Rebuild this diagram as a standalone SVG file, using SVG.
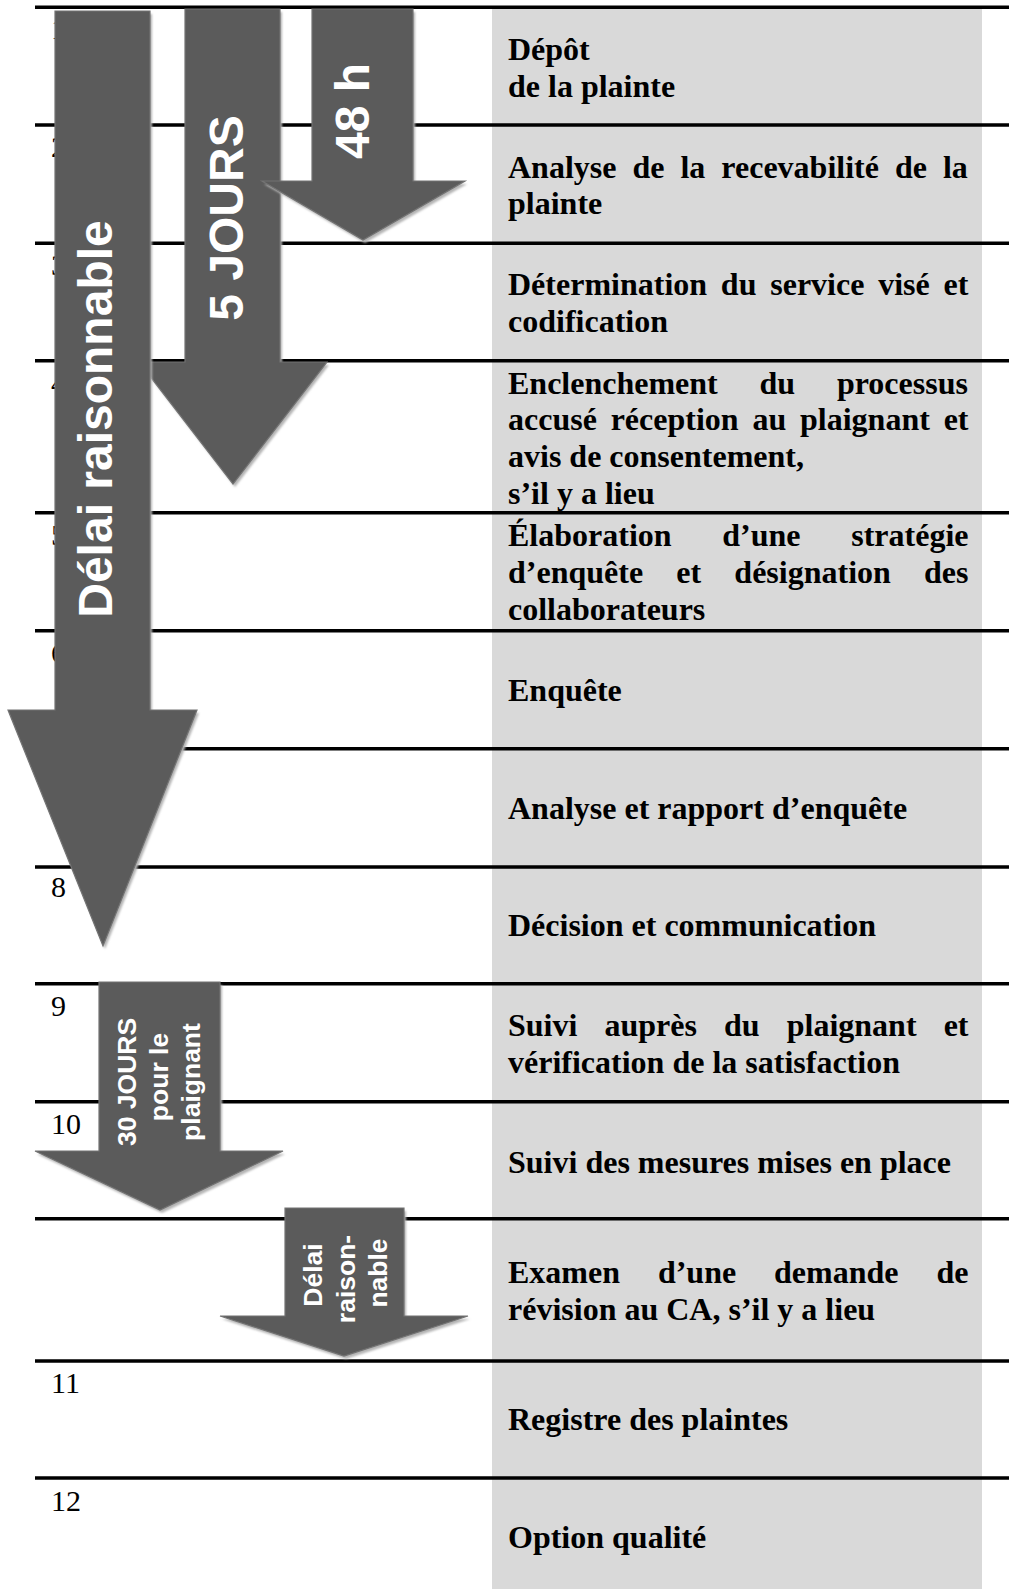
<svg xmlns="http://www.w3.org/2000/svg" width="1009" height="1589" viewBox="0 0 1009 1589">
<defs>
<style>
.rule{stroke:#000;stroke-width:3.4}
.step{font-family:"Liberation Serif","Times New Roman",serif;font-weight:bold;font-size:32px;fill:#000}
.num{font-family:"Liberation Serif","Times New Roman",serif;font-size:30px;fill:#000}
.arr{fill:#5b5b5b;stroke:#737373;stroke-width:1.2}
.shd{fill:#b4b4b4;filter:url(#blur)}
.lbl{font-family:"Liberation Sans",Arial,sans-serif;font-weight:bold;fill:#fff;text-anchor:middle}
</style>
<filter id="blur" x="-10%" y="-10%" width="120%" height="120%"><feGaussianBlur stdDeviation="1"/></filter>
</defs>
<rect width="1009" height="1589" fill="#fff"/>
<rect id="column" x="492" y="9" width="490" height="1580" fill="#d9d9d9"/>

<g id="rules">
<line class="rule" x1="35" y1="7.3" x2="1009" y2="7.3"/>
<line class="rule" x1="35" y1="125" x2="1009" y2="125"/>
<line class="rule" x1="35" y1="243.3" x2="1009" y2="243.3"/>
<line class="rule" x1="35" y1="360.7" x2="1009" y2="360.7"/>
<line class="rule" x1="35" y1="512.7" x2="1009" y2="512.7"/>
<line class="rule" x1="35" y1="630.7" x2="1009" y2="630.7"/>
<line class="rule" x1="35" y1="748.7" x2="1009" y2="748.7"/>
<line class="rule" x1="35" y1="867" x2="1009" y2="867"/>
<line class="rule" x1="35" y1="983.7" x2="1009" y2="983.7"/>
<line class="rule" x1="35" y1="1101.7" x2="1009" y2="1101.7"/>
<line class="rule" x1="35" y1="1218.7" x2="1009" y2="1218.7"/>
<line class="rule" x1="35" y1="1361" x2="1009" y2="1361"/>
<line class="rule" x1="35" y1="1478" x2="1009" y2="1478"/>
</g>

<g id="row1"><text class="num" x="51" y="39">1</text>
<text class="step" x="508" y="59.5">Dépôt</text>
<text class="step" x="508" y="96.5">de la plainte</text></g>

<g id="row2"><text class="num" x="51" y="157">2</text>
<text class="step" x="508" y="177.5" word-spacing="8">Analyse de la recevabilité de la</text>
<text class="step" x="508" y="213.5">plainte</text></g>

<g id="row3"><text class="num" x="51" y="275">3</text>
<text class="step" x="508" y="295" word-spacing="5.8">Détermination du service visé et</text>
<text class="step" x="508" y="331.5">codification</text></g>

<g id="row4"><text class="num" x="51" y="392.5">4</text>
<text class="step" x="508" y="393.5" word-spacing="33.8">Enclenchement du processus</text>
<text class="step" x="508" y="430" word-spacing="5.8">accusé réception au plaignant et</text>
<text class="step" x="508" y="466.5">avis de consentement,</text>
<text class="step" x="508" y="503.5">s’il y a lieu</text></g>

<g id="row5"><text class="num" x="51" y="544.5">5</text>
<text class="step" x="508" y="545.5" word-spacing="42.7">Élaboration d’une stratégie</text>
<text class="step" x="508" y="582.5" word-spacing="25.2">d’enquête et désignation des</text>
<text class="step" x="508" y="619.5">collaborateurs</text></g>

<g id="row6"><text class="num" x="51" y="662.5">6</text>
<text class="step" x="508" y="700.5">Enquête</text></g>

<g id="row7"><text class="num" x="51" y="780.5">7</text>
<text class="step" x="508" y="819">Analyse et rapport d’enquête</text></g>

<g id="row8"><text class="num" x="51" y="897">8</text>
<text class="step" x="508" y="936">Décision et communication</text></g>

<g id="row9"><text class="num" x="51" y="1015.5">9</text>
<text class="step" x="508" y="1036" word-spacing="19.1">Suivi auprès du plaignant et</text>
<text class="step" x="508" y="1072.5">vérification de la satisfaction</text></g>

<g id="row10"><text class="num" x="51" y="1133.5">10</text>
<text class="step" x="508" y="1172.5">Suivi des mesures mises en place</text></g>

<g id="row-revision">
<text class="step" x="508" y="1283" word-spacing="29.9">Examen d’une demande de</text>
<text class="step" x="508" y="1319.5">révision au CA, s’il y a lieu</text></g>

<g id="row11"><text class="num" x="51" y="1393">11</text>
<text class="step" x="508" y="1430">Registre des plaintes</text></g>

<g id="row12"><text class="num" x="51" y="1511">12</text>
<text class="step" x="508" y="1548">Option qualité</text></g>

<g id="connectors">
<g id="arrow-5jours">
<path class="shd" transform="translate(2,3)" d="M185,9 H280 V362 H327 L233,484 L139,362 H185 Z"/>
<path class="arr" d="M185,9 H280 V362 H327 L233,484 L139,362 H185 Z"/>
<text class="lbl" font-size="48" transform="translate(243,218) rotate(-90)">5 JOURS</text>
</g>
<g id="arrow-48h">
<path class="shd" transform="translate(2,3)" d="M312,9 H413 V181 H465 L363,240 L262,181 H312 Z"/>
<path class="arr" d="M312,9 H413 V181 H465 L363,240 L262,181 H312 Z"/>
<text class="lbl" font-size="48" transform="translate(369,111) rotate(-90)">48 h</text>
</g>
<g id="arrow-delai">
<path class="shd" transform="translate(2,3)" d="M55,11 H150 V710 H197 L103,946 L8,710 H55 Z"/>
<path class="arr" d="M55,11 H150 V710 H197 L103,946 L8,710 H55 Z"/>
<text class="lbl" font-size="48" transform="translate(112,419) rotate(-90)">Délai raisonnable</text>
</g>
<g id="arrow-30jours">
<path class="shd" transform="translate(2,3)" d="M99,982 H220 V1151 H283 L160,1210 L35,1151 H99 Z"/>
<path class="arr" d="M99,982 H220 V1151 H283 L160,1210 L35,1151 H99 Z"/>
<text class="lbl" font-size="26.5" transform="translate(136,1082) rotate(-90)">30 JOURS</text>
<text class="lbl" font-size="26.5" transform="translate(168,1077) rotate(-90)">pour le</text>
<text class="lbl" font-size="26.5" transform="translate(200,1082) rotate(-90)">plaignant</text>
</g>
<g id="arrow-revision">
<path class="shd" transform="translate(2,3)" d="M285,1208 H404 V1316 H468 L344,1356 L220,1316 H285 Z"/>
<path class="arr" d="M285,1208 H404 V1316 H468 L344,1356 L220,1316 H285 Z"/>
<text class="lbl" font-size="26.5" transform="translate(322,1275) rotate(-90)">Délai</text>
<text class="lbl" font-size="26.5" transform="translate(355,1279) rotate(-90)">raison-</text>
<text class="lbl" font-size="26.5" transform="translate(387,1273) rotate(-90)">nable</text>
</g>
</g>
</svg>
